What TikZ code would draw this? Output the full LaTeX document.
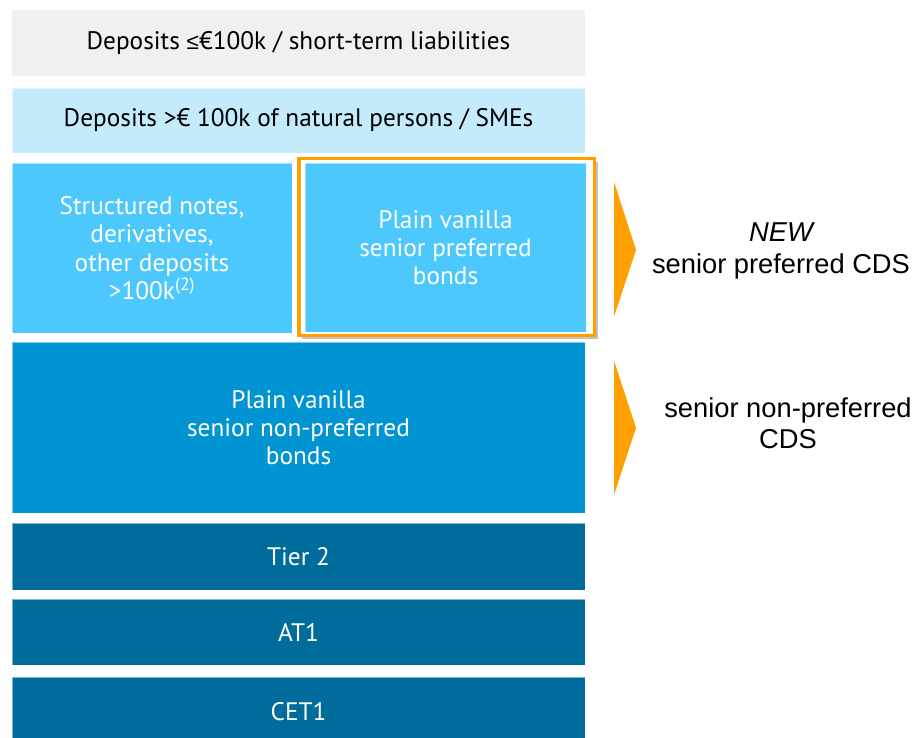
\documentclass[tikz,border=0pt]{standalone}
\usepackage{fontspec}
\setmainfont{PT Sans}
\newfontfamily\arialf{Liberation Sans}
\usetikzlibrary{shadows}
\definecolor{cgray}{HTML}{F0F0F0}
\definecolor{clight}{HTML}{C3EBFB}
\definecolor{cmid}{HTML}{4DC8FD}
\definecolor{cbig}{HTML}{0094D3}
\definecolor{cdark}{HTML}{006C9B}
\definecolor{corange}{HTML}{FFA000}
\tikzset{
  layer/.style={rectangle, inner sep=0pt, outer sep=0pt, align=center,
    font=\fontsize{25.3}{28.3}\selectfont},
  darktext/.style={text=black},
  lighttext/.style={text=white},
  edge/.style={draw=white, draw opacity=0.5, line width=0.8pt},
  rtext/.style={align=center, font=\arialf\fontsize{27.3}{31.5}\selectfont, text=black},
  pointer/.style={fill=corange, draw=none}
}
\begin{document}
\begin{tikzpicture}[x=1pt,y=-1pt]
\useasboundingbox (0,0) rectangle (916,738);
\clip (0,0) rectangle (916,738);
% layers
\node[layer, darktext, fill=cgray, minimum width=573pt, minimum height=66pt] (dep) at (298.5,43) {Deposits {\arialf\fontsize{22.5}{28}\selectfont ≤}€100k / short-term liabilities};
\node[layer, darktext, fill=clight, edge, minimum width=573pt, minimum height=65pt] (dep2) at (298.5,120.5) {Deposits >€ 100k of natural persons / SMEs};
\node[layer, lighttext, fill=cmid, edge, minimum width=280pt, minimum height=170pt] (struct) at (152,248) {Structured notes,\\derivatives,\\other deposits\\>100k\textsuperscript{(2)}};
% orange highlight with shadow
\node[draw=corange, line width=3.5pt, fill=white, minimum width=295.5pt, minimum height=176.8pt, inner sep=0pt,
  drop shadow={shadow xshift=3pt, shadow yshift=-3pt, opacity=0.4, fill=black!60}] (hl) at (446.75,247.1) {};
\node[layer, lighttext, fill=cmid, edge, minimum width=281pt, minimum height=169pt] (spb) at (445.5,247.5) {Plain vanilla\\senior preferred\\bonds};
\node[layer, lighttext, fill=cbig, edge, minimum width=573pt, minimum height=171pt] (snp) at (298.5,427.5) {Plain vanilla\\senior non-preferred\\bonds};
\node[layer, lighttext, fill=cdark, edge, minimum width=573pt, minimum height=67pt] (t2) at (298.5,556.5) {Tier 2};
\node[layer, lighttext, fill=cdark, edge, minimum width=573pt, minimum height=66pt] (at1) at (298.5,632) {AT1};
\node[layer, lighttext, fill=cdark, edge, minimum width=573pt, minimum height=70pt] (cet1) at (298.5,712) {CET1};
% pointers
\coordinate (p1a) at (614,181.7);
\coordinate (p1b) at (636,250);
\coordinate (p1c) at (614,316.7);
\fill[pointer] (p1a) -- (p1b) -- (p1c) -- cycle;
\coordinate (p2a) at (614,360.7);
\coordinate (p2b) at (636,427.7);
\coordinate (p2c) at (614,495);
\fill[pointer] (p2a) -- (p2b) -- (p2c) -- cycle;
% right labels
\node[rtext] (spcds) at (781,251) {\itshape NEW\\senior preferred CDS};
\node[rtext] (snpcds) at (788,423) {senior non-preferred\\CDS};
\end{tikzpicture}
\end{document}
